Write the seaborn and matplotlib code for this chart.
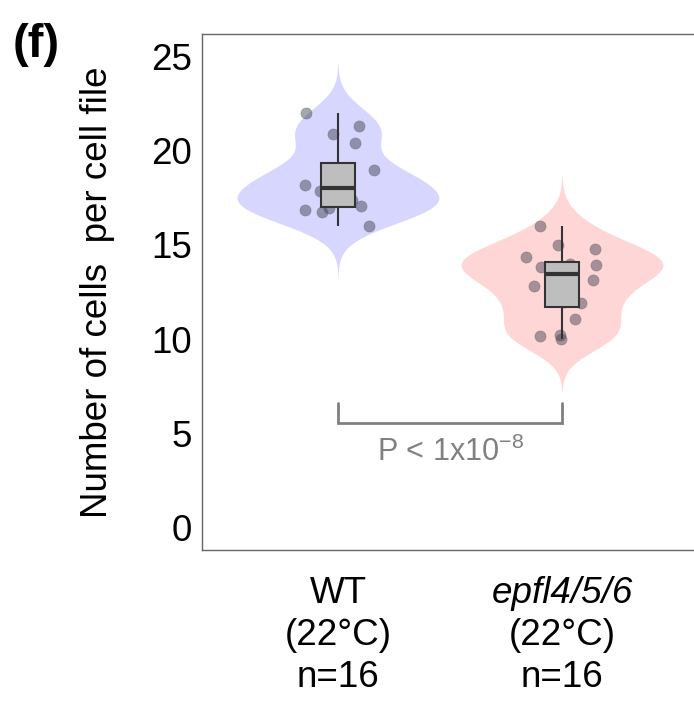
import numpy as np
import pandas as pd
import matplotlib
matplotlib.use("Agg")
import matplotlib.pyplot as plt
import seaborn as sns

# Cell counts per cell file
wt_counts = [22.0, 21.3, 20.9, 20.4, 19.0, 18.9, 18.6, 18.2,
             17.85, 17.7, 17.4, 17.05, 16.95, 16.85, 16.75, 16.0]
epfl_counts = [16.0, 15.02, 14.8, 14.34, 14.0, 13.95, 13.85, 13.79,
               13.15, 12.84, 11.97, 11.9, 11.09, 10.23, 10.18, 10.0]
groups = ["WT", "epfl4/5/6"]
group_styles = ["normal", "italic"]
tick_labels = ["(22°C)\nn=16", "(22°C)\nn=16"]
violin_colors = {"WT": "#D6D6FF", "epfl4/5/6": "#FFD6D6"}
p_text = "P < 1x10$^{-8}$"

df = pd.DataFrame({
    "group": ["WT"] * len(wt_counts) + ["epfl4/5/6"] * len(epfl_counts),
    "cells": wt_counts + epfl_counts,
})


def nrd0(kde):
    # R's default bandwidth (bw.nrd0), returned as a factor of the data sd
    x = np.asarray(kde.dataset).ravel()
    sd = np.std(x, ddof=1)
    iqr = np.subtract(*np.percentile(x, [75, 25]))
    bw = 0.9 * min(sd, iqr / 1.34) * len(x) ** -0.2
    return bw / sd


sns.set_style("white")
plt.rcParams["font.family"] = ["Liberation Sans", "DejaVu Sans"]
plt.rcParams["mathtext.fontset"] = "custom"
plt.rcParams["mathtext.rm"] = "Liberation Sans"
plt.rcParams["text.color"] = "black"
plt.rcParams["axes.labelcolor"] = "black"

FS = 26.5
LS = 1.27
fig = plt.figure(figsize=(6.94, 7.03), dpi=100)
ax = fig.add_axes([0.291, 0.2176, 0.709, 0.734])

sns.violinplot(data=df, x="group", y="cells", hue="group", order=groups,
               palette=violin_colors, saturation=1, density_norm="area",
               cut=3, bw_method=nrd0, inner=None, linewidth=0, width=0.9,
               legend=False, ax=ax)

np.random.seed(7)
sns.stripplot(data=df, x="group", y="cells", order=groups, color="#3a3a4a",
              alpha=0.45, size=8, jitter=0.17, linewidth=0.6,
              edgecolor="#666666", zorder=2.5, ax=ax)

sns.boxplot(data=df, x="group", y="cells", order=groups, width=0.15,
            color="#BEBEBE", saturation=1, linecolor="#333333",
            linewidth=1.5, showfliers=False, showcaps=False,
            medianprops={"linewidth": 3}, zorder=3, ax=ax)

# significance bracket
ax.plot([0, 0, 1, 1], [6.6, 5.57, 5.57, 6.6], color="#808080",
        linewidth=2, solid_joinstyle="miter")
ax.text(0.5, 4.0, p_text, ha="center", va="center", fontsize=22,
        color="#808080")

ax.set_xlim(-0.607, 1.589)
ax.set_ylim(-1.2, 26.2)
ax.set_yticks([0, 5, 10, 15, 20, 25])
ax.set_xticks([0, 1])
ax.set_xticklabels(tick_labels, linespacing=LS)
ax.set_xlabel("")
ax.set_ylabel("Number of cells  per cell file", fontsize=FS, labelpad=26,
              color="black")
ax.tick_params(axis="both", labelsize=FS, colors="#555555",
               labelcolor="black", width=1, direction="out")
ax.tick_params(axis="x", length=6, pad=43)
ax.tick_params(axis="y", length=4.5, pad=3)
for side in ["left", "bottom", "top"]:
    ax.spines[side].set_color("#666666")
    ax.spines[side].set_linewidth(1)
ax.spines["right"].set_visible(False)

# genotype names on the first line under each tick
for i, (name, style) in enumerate(zip(groups, group_styles)):
    ax.annotate(name, xy=(i, 0), xycoords=ax.get_xaxis_transform(),
                xytext=(0, -18.5), textcoords="offset points", ha="center",
                va="top", fontsize=FS, fontstyle=style, color="black")

fig.text(0.018, 0.936, "(f)", fontsize=34, fontweight="bold", va="center",
         color="black")

plt.savefig("out.png", dpi=100)
plt.close()
